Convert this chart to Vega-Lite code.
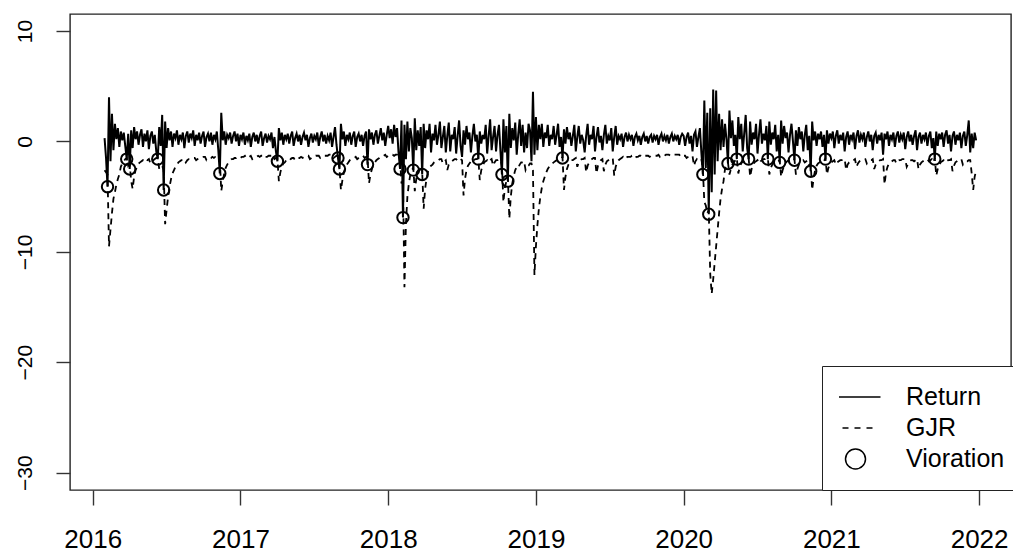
{
"$schema":"https://vega.github.io/schema/vega-lite/v6.json",
"width":941,"height":476,
"autosize":"none",
"padding":{"left":70,"top":14,"right":2,"bottom":64},
"background":"white",
"config":{"view":{"stroke":"#222","strokeWidth":1.4},"font":"Liberation Sans"},
"datasets":{
"series":[
{"t":2016.08,"r":0.3,"g":-2.6},{"t":2016.09,"r":-1.5,"g":-2.8},{"t":2016.10,"r":-4.1,"g":-3.0},{"t":2016.11,"r":4.0,"g":-9.5},{"t":2016.12,"r":-1.8,"g":-8.0},{"t":2016.13,"r":2.5,"g":-6.5},{"t":2016.14,"r":-0.8,"g":-5.2},{"t":2016.15,"r":1.6,"g":-4.6},{"t":2016.16,"r":0.2,"g":-3.9},{"t":2016.17,"r":1.2,"g":-3.4},{"t":2016.18,"r":-0.5,"g":-3.0},{"t":2016.19,"r":0.9,"g":-2.3},{"t":2016.20,"r":0.1,"g":-2.0},{"t":2016.21,"r":0.8,"g":-1.8},{"t":2016.22,"r":-0.4,"g":-1.6},{"t":2016.23,"r":-1.6,"g":-1.5},{"t":2016.24,"r":0.7,"g":-2.2},{"t":2016.25,"r":-2.5,"g":-2.0},{"t":2016.26,"r":1.0,"g":-3.6},{"t":2016.27,"r":-0.6,"g":-4.3},{"t":2016.28,"r":1.3,"g":-3.2},{"t":2016.29,"r":0.2,"g":-2.6},{"t":2016.30,"r":0.9,"g":-2.3},{"t":2016.31,"r":-0.3,"g":-2.0},{"t":2016.32,"r":0.6,"g":-1.9},{"t":2016.33,"r":1.1,"g":-1.8},{"t":2016.34,"r":-0.5,"g":-1.7},{"t":2016.35,"r":0.7,"g":-1.8},{"t":2016.36,"r":0.0,"g":-1.6},{"t":2016.37,"r":1.0,"g":-1.7},{"t":2016.38,"r":-0.7,"g":-1.6},{"t":2016.39,"r":0.5,"g":-2.0},{"t":2016.40,"r":0.9,"g":-1.8},{"t":2016.41,"r":-0.2,"g":-1.7},{"t":2016.42,"r":0.6,"g":-1.6},{"t":2016.43,"r":-0.9,"g":-1.5},{"t":2016.44,"r":-1.6,"g":-1.5},{"t":2016.45,"r":1.3,"g":-2.5},{"t":2016.46,"r":-0.4,"g":-2.4},{"t":2016.47,"r":2.4,"g":-2.2},{"t":2016.48,"r":-4.4,"g":-2.6},{"t":2016.49,"r":1.8,"g":-7.5},{"t":2016.50,"r":-0.6,"g":-6.2},{"t":2016.51,"r":1.2,"g":-5.0},{"t":2016.52,"r":0.1,"g":-4.1},{"t":2016.53,"r":0.9,"g":-3.4},{"t":2016.54,"r":-0.5,"g":-2.9},{"t":2016.55,"r":0.7,"g":-2.6},{"t":2016.56,"r":0.3,"g":-2.3},{"t":2016.57,"r":1.0,"g":-2.1},{"t":2016.58,"r":-0.3,"g":-1.9},{"t":2016.59,"r":0.6,"g":-1.8},{"t":2016.60,"r":0.2,"g":-1.7},{"t":2016.61,"r":0.8,"g":-1.7},{"t":2016.62,"r":-0.6,"g":-1.6},{"t":2016.63,"r":0.5,"g":-1.9},{"t":2016.64,"r":0.9,"g":-1.7},{"t":2016.65,"r":-0.1,"g":-1.6},{"t":2016.66,"r":0.7,"g":-1.6},{"t":2016.67,"r":0.3,"g":-1.5},{"t":2016.68,"r":1.0,"g":-1.5},{"t":2016.69,"r":-0.4,"g":-1.5},{"t":2016.70,"r":0.6,"g":-1.7},{"t":2016.71,"r":0.1,"g":-1.6},{"t":2016.72,"r":0.8,"g":-1.5},{"t":2016.73,"r":-0.2,"g":-1.5},{"t":2016.74,"r":0.5,"g":-1.5},{"t":2016.75,"r":0.9,"g":-1.4},{"t":2016.76,"r":-0.5,"g":-1.4},{"t":2016.77,"r":0.4,"g":-1.7},{"t":2016.78,"r":0.7,"g":-1.6},{"t":2016.79,"r":0.0,"g":-1.5},{"t":2016.80,"r":0.8,"g":-1.5},{"t":2016.81,"r":-0.3,"g":-1.4},{"t":2016.82,"r":0.6,"g":-1.5},{"t":2016.83,"r":0.2,"g":-1.4},{"t":2016.84,"r":0.9,"g":-1.4},{"t":2016.85,"r":-0.8,"g":-1.4},{"t":2016.86,"r":-2.9,"g":-1.6},{"t":2016.87,"r":2.6,"g":-4.5},{"t":2016.88,"r":0.1,"g":-3.6},{"t":2016.89,"r":0.9,"g":-2.9},{"t":2016.90,"r":-0.3,"g":-2.4},{"t":2016.91,"r":0.6,"g":-2.1},{"t":2016.92,"r":0.3,"g":-1.9},{"t":2016.93,"r":0.8,"g":-1.7},{"t":2016.94,"r":-0.2,"g":-1.6},{"t":2016.95,"r":0.5,"g":-1.6},{"t":2016.96,"r":0.9,"g":-1.5},{"t":2016.97,"r":0.0,"g":-1.5},{"t":2016.98,"r":0.7,"g":-1.4},{"t":2016.99,"r":-0.4,"g":-1.4},
{"t":2017.00,"r":0.6,"g":-1.5},{"t":2017.01,"r":0.2,"g":-1.4},{"t":2017.02,"r":0.8,"g":-1.4},{"t":2017.03,"r":-0.3,"g":-1.3},{"t":2017.04,"r":0.5,"g":-1.5},{"t":2017.05,"r":0.1,"g":-1.4},{"t":2017.06,"r":0.7,"g":-1.4},{"t":2017.07,"r":-0.5,"g":-1.3},{"t":2017.08,"r":0.4,"g":-1.6},{"t":2017.09,"r":0.8,"g":-1.5},{"t":2017.10,"r":0.0,"g":-1.4},{"t":2017.11,"r":0.6,"g":-1.4},{"t":2017.12,"r":-0.2,"g":-1.3},{"t":2017.13,"r":0.5,"g":-1.4},{"t":2017.14,"r":0.9,"g":-1.3},{"t":2017.15,"r":-0.4,"g":-1.3},{"t":2017.16,"r":0.3,"g":-1.5},{"t":2017.17,"r":0.7,"g":-1.4},{"t":2017.18,"r":-0.1,"g":-1.4},{"t":2017.19,"r":0.5,"g":-1.3},{"t":2017.20,"r":0.2,"g":-1.3},{"t":2017.21,"r":0.8,"g":-1.3},{"t":2017.22,"r":-0.6,"g":-1.2},{"t":2017.23,"r":0.4,"g":-1.6},{"t":2017.24,"r":-0.9,"g":-1.5},{"t":2017.25,"r":-1.8,"g":-1.6},{"t":2017.26,"r":1.2,"g":-3.6},{"t":2017.27,"r":0.1,"g":-2.8},{"t":2017.28,"r":0.8,"g":-2.3},{"t":2017.29,"r":-0.3,"g":-2.0},{"t":2017.30,"r":0.6,"g":-1.9},{"t":2017.31,"r":0.2,"g":-1.7},{"t":2017.32,"r":0.7,"g":-1.6},{"t":2017.33,"r":-0.2,"g":-1.5},{"t":2017.34,"r":0.5,"g":-1.6},{"t":2017.35,"r":0.9,"g":-1.5},{"t":2017.36,"r":-0.4,"g":-1.5},{"t":2017.37,"r":0.3,"g":-1.7},{"t":2017.38,"r":0.7,"g":-1.6},{"t":2017.39,"r":0.0,"g":-1.5},{"t":2017.40,"r":0.6,"g":-1.5},{"t":2017.41,"r":-0.3,"g":-1.4},{"t":2017.42,"r":0.4,"g":-1.5},{"t":2017.43,"r":0.8,"g":-1.4},{"t":2017.44,"r":0.1,"g":-1.4},{"t":2017.45,"r":0.6,"g":-1.3},{"t":2017.46,"r":-0.5,"g":-1.3},{"t":2017.47,"r":0.3,"g":-1.6},{"t":2017.48,"r":0.7,"g":-1.5},{"t":2017.49,"r":-0.1,"g":-1.4},{"t":2017.50,"r":0.5,"g":-1.4},{"t":2017.51,"r":0.2,"g":-1.3},{"t":2017.52,"r":0.8,"g":-1.3},{"t":2017.53,"r":-0.4,"g":-1.3},{"t":2017.54,"r":0.4,"g":-1.5},{"t":2017.55,"r":0.9,"g":-1.4},{"t":2017.56,"r":0.0,"g":-1.4},{"t":2017.57,"r":0.6,"g":-1.3},{"t":2017.58,"r":-0.2,"g":-1.3},{"t":2017.59,"r":0.5,"g":-1.3},{"t":2017.60,"r":0.1,"g":-1.2},{"t":2017.61,"r":0.8,"g":-1.2},{"t":2017.62,"r":-0.5,"g":-1.2},{"t":2017.63,"r":0.4,"g":-1.5},{"t":2017.64,"r":1.3,"g":-1.4},{"t":2017.65,"r":-0.3,"g":-1.3},{"t":2017.66,"r":-1.5,"g":-1.3},{"t":2017.67,"r":-2.5,"g":-2.4},{"t":2017.68,"r":1.6,"g":-4.4},{"t":2017.69,"r":0.2,"g":-3.5},{"t":2017.70,"r":0.9,"g":-2.8},{"t":2017.71,"r":-0.4,"g":-2.4},{"t":2017.72,"r":0.6,"g":-2.1},{"t":2017.73,"r":0.2,"g":-1.9},{"t":2017.74,"r":0.8,"g":-1.7},{"t":2017.75,"r":-0.3,"g":-1.6},{"t":2017.76,"r":0.5,"g":-1.6},{"t":2017.77,"r":0.9,"g":-1.5},{"t":2017.78,"r":-0.5,"g":-1.4},{"t":2017.79,"r":0.4,"g":-1.6},{"t":2017.80,"r":0.7,"g":-1.5},{"t":2017.81,"r":0.0,"g":-1.4},{"t":2017.82,"r":0.6,"g":-1.4},{"t":2017.83,"r":-0.4,"g":-1.3},{"t":2017.84,"r":0.5,"g":-1.5},{"t":2017.85,"r":0.9,"g":-1.4},{"t":2017.86,"r":-2.1,"g":-1.4},{"t":2017.87,"r":1.1,"g":-3.8},{"t":2017.88,"r":0.2,"g":-3.0},{"t":2017.89,"r":0.8,"g":-2.5},{"t":2017.90,"r":-0.3,"g":-2.1},{"t":2017.91,"r":0.6,"g":-1.9},{"t":2017.92,"r":1.0,"g":-1.7},{"t":2017.93,"r":-0.2,"g":-1.6},{"t":2017.94,"r":0.5,"g":-1.5},{"t":2017.95,"r":1.2,"g":-1.4},{"t":2017.96,"r":0.1,"g":-1.3},{"t":2017.97,"r":0.8,"g":-1.3},{"t":2017.98,"r":-0.4,"g":-1.2},{"t":2017.99,"r":0.6,"g":-1.4},
{"t":2018.00,"r":1.4,"g":-1.3},{"t":2018.01,"r":0.3,"g":-1.2},{"t":2018.02,"r":1.1,"g":-1.2},{"t":2018.03,"r":-0.2,"g":-1.2},{"t":2018.04,"r":1.5,"g":-1.3},{"t":2018.05,"r":0.4,"g":-1.2},{"t":2018.06,"r":1.2,"g":-1.2},{"t":2018.07,"r":-1.0,"g":-1.3},{"t":2018.08,"r":-2.5,"g":-1.6},{"t":2018.09,"r":1.9,"g":-3.8},{"t":2018.10,"r":-6.9,"g":-3.5},{"t":2018.11,"r":1.5,"g":-13.2},{"t":2018.12,"r":-1.6,"g":-7.5},{"t":2018.13,"r":1.8,"g":-5.0},{"t":2018.14,"r":-0.9,"g":-3.8},{"t":2018.15,"r":1.2,"g":-3.0},{"t":2018.16,"r":0.3,"g":-2.6},{"t":2018.17,"r":-2.6,"g":-2.4},{"t":2018.18,"r":2.1,"g":-4.5},{"t":2018.19,"r":-0.8,"g":-3.4},{"t":2018.20,"r":1.0,"g":-2.9},{"t":2018.21,"r":-0.4,"g":-2.6},{"t":2018.22,"r":1.3,"g":-2.5},{"t":2018.23,"r":-3.0,"g":-2.7},{"t":2018.24,"r":1.6,"g":-6.1},{"t":2018.25,"r":-0.6,"g":-4.3},{"t":2018.26,"r":1.0,"g":-3.3},{"t":2018.27,"r":0.2,"g":-2.7},{"t":2018.28,"r":1.6,"g":-2.4},{"t":2018.29,"r":-1.0,"g":-2.2},{"t":2018.30,"r":0.7,"g":-2.1},{"t":2018.31,"r":0.1,"g":-1.9},{"t":2018.32,"r":1.5,"g":-1.8},{"t":2018.33,"r":-0.3,"g":-1.7},{"t":2018.34,"r":0.6,"g":-1.7},{"t":2018.35,"r":1.8,"g":-1.6},{"t":2018.36,"r":-0.6,"g":-1.6},{"t":2018.37,"r":0.4,"g":-2.0},{"t":2018.38,"r":1.4,"g":-1.8},{"t":2018.39,"r":-1.0,"g":-1.7},{"t":2018.40,"r":0.5,"g":-2.6},{"t":2018.41,"r":1.7,"g":-2.1},{"t":2018.42,"r":-0.9,"g":-1.9},{"t":2018.43,"r":0.6,"g":-1.8},{"t":2018.44,"r":0.2,"g":-1.7},{"t":2018.45,"r":1.3,"g":-1.6},{"t":2018.46,"r":-1.1,"g":-1.6},{"t":2018.47,"r":0.5,"g":-1.8},{"t":2018.48,"r":1.9,"g":-1.7},{"t":2018.49,"r":-0.4,"g":-1.6},{"t":2018.50,"r":-1.4,"g":-1.7},{"t":2018.51,"r":1.0,"g":-4.9},{"t":2018.52,"r":-0.3,"g":-3.4},{"t":2018.53,"r":1.4,"g":-2.6},{"t":2018.54,"r":0.2,"g":-2.2},{"t":2018.55,"r":0.8,"g":-2.0},{"t":2018.56,"r":-1.0,"g":-1.8},{"t":2018.57,"r":0.5,"g":-1.9},{"t":2018.58,"r":1.6,"g":-1.7},{"t":2018.59,"r":0.0,"g":-1.6},{"t":2018.60,"r":0.6,"g":-1.6},{"t":2018.61,"r":-1.6,"g":-1.5},{"t":2018.62,"r":0.9,"g":-3.5},{"t":2018.63,"r":-0.2,"g":-2.6},{"t":2018.64,"r":0.6,"g":-2.2},{"t":2018.65,"r":0.2,"g":-1.9},{"t":2018.66,"r":1.5,"g":-1.8},{"t":2018.67,"r":-1.1,"g":-1.7},{"t":2018.68,"r":0.5,"g":-1.9},{"t":2018.69,"r":2.0,"g":-1.7},{"t":2018.70,"r":-0.8,"g":-1.6},{"t":2018.71,"r":0.4,"g":-2.2},{"t":2018.72,"r":1.4,"g":-1.9},{"t":2018.73,"r":-0.9,"g":-1.7},{"t":2018.74,"r":0.6,"g":-1.7},{"t":2018.75,"r":1.5,"g":-1.6},{"t":2018.76,"r":-0.9,"g":-1.6},{"t":2018.77,"r":-3.0,"g":-2.2},{"t":2018.78,"r":2.0,"g":-5.5},{"t":2018.79,"r":-1.0,"g":-4.2},{"t":2018.80,"r":1.4,"g":-3.6},{"t":2018.81,"r":-3.6,"g":-3.2},{"t":2018.82,"r":2.5,"g":-7.0},{"t":2018.83,"r":-0.6,"g":-5.0},{"t":2018.84,"r":1.2,"g":-3.8},{"t":2018.85,"r":0.1,"g":-3.1},{"t":2018.86,"r":1.7,"g":-2.6},{"t":2018.87,"r":-1.2,"g":-2.3},{"t":2018.88,"r":0.6,"g":-2.4},{"t":2018.89,"r":2.0,"g":-2.1},{"t":2018.90,"r":-0.4,"g":-1.9},{"t":2018.91,"r":1.5,"g":-1.9},{"t":2018.92,"r":-1.0,"g":-1.8},{"t":2018.93,"r":0.8,"g":-2.6},{"t":2018.94,"r":-0.6,"g":-2.3},{"t":2018.95,"r":1.6,"g":-2.2},{"t":2018.96,"r":1.0,"g":-2.0},{"t":2018.97,"r":-1.8,"g":-2.0},{"t":2018.98,"r":4.5,"g":-2.6},{"t":2018.99,"r":-1.2,"g":-12.1},
{"t":2019.00,"r":2.2,"g":-9.5},{"t":2019.01,"r":-0.8,"g":-7.6},{"t":2019.02,"r":1.5,"g":-6.1},{"t":2019.03,"r":0.2,"g":-5.0},{"t":2019.04,"r":1.6,"g":-4.2},{"t":2019.05,"r":-0.5,"g":-3.6},{"t":2019.06,"r":0.8,"g":-3.2},{"t":2019.07,"r":0.3,"g":-2.8},{"t":2019.08,"r":1.5,"g":-2.5},{"t":2019.09,"r":-0.4,"g":-2.3},{"t":2019.10,"r":0.6,"g":-2.1},{"t":2019.11,"r":0.2,"g":-2.0},{"t":2019.12,"r":1.4,"g":-1.9},{"t":2019.13,"r":-0.3,"g":-1.8},{"t":2019.14,"r":0.6,"g":-1.7},{"t":2019.15,"r":1.6,"g":-1.7},{"t":2019.16,"r":-0.5,"g":-1.6},{"t":2019.17,"r":0.4,"g":-1.6},{"t":2019.18,"r":-1.5,"g":-1.4},{"t":2019.19,"r":1.1,"g":-4.4},{"t":2019.20,"r":-0.2,"g":-3.2},{"t":2019.21,"r":1.3,"g":-2.5},{"t":2019.22,"r":0.2,"g":-2.1},{"t":2019.23,"r":0.8,"g":-1.9},{"t":2019.24,"r":-0.4,"g":-1.7},{"t":2019.25,"r":0.5,"g":-1.7},{"t":2019.26,"r":1.5,"g":-1.6},{"t":2019.27,"r":-0.9,"g":-1.5},{"t":2019.28,"r":0.4,"g":-2.3},{"t":2019.29,"r":1.4,"g":-1.9},{"t":2019.30,"r":-0.2,"g":-1.7},{"t":2019.31,"r":0.6,"g":-1.6},{"t":2019.32,"r":0.1,"g":-1.6},{"t":2019.33,"r":-1.0,"g":-1.5},{"t":2019.34,"r":0.5,"g":-2.8},{"t":2019.35,"r":1.6,"g":-2.2},{"t":2019.36,"r":-0.3,"g":-1.9},{"t":2019.37,"r":0.6,"g":-1.7},{"t":2019.38,"r":0.2,"g":-1.6},{"t":2019.39,"r":1.4,"g":-1.5},{"t":2019.40,"r":-0.9,"g":-1.5},{"t":2019.41,"r":0.4,"g":-2.9},{"t":2019.42,"r":1.3,"g":-2.2},{"t":2019.43,"r":-0.1,"g":-1.9},{"t":2019.44,"r":0.5,"g":-1.7},{"t":2019.45,"r":-0.8,"g":-1.6},{"t":2019.46,"r":0.6,"g":-2.7},{"t":2019.47,"r":1.5,"g":-2.1},{"t":2019.48,"r":-0.2,"g":-1.8},{"t":2019.49,"r":0.5,"g":-1.7},{"t":2019.50,"r":0.1,"g":-1.6},{"t":2019.51,"r":1.2,"g":-1.5},{"t":2019.52,"r":-0.9,"g":-1.5},{"t":2019.53,"r":0.4,"g":-3.1},{"t":2019.54,"r":1.4,"g":-2.3},{"t":2019.55,"r":-0.3,"g":-1.9},{"t":2019.56,"r":0.5,"g":-1.7},{"t":2019.57,"r":0.2,"g":-1.6},{"t":2019.58,"r":0.7,"g":-1.5},{"t":2019.59,"r":-0.5,"g":-1.4},{"t":2019.60,"r":0.4,"g":-1.6},{"t":2019.61,"r":0.8,"g":-1.5},{"t":2019.62,"r":0.0,"g":-1.4},{"t":2019.63,"r":0.6,"g":-1.4},{"t":2019.64,"r":0.2,"g":-1.4},{"t":2019.65,"r":0.6,"g":-1.3},{"t":2019.66,"r":-0.4,"g":-1.3},{"t":2019.67,"r":0.4,"g":-1.5},{"t":2019.68,"r":0.7,"g":-1.4},{"t":2019.69,"r":0.1,"g":-1.4},{"t":2019.70,"r":0.5,"g":-1.3},{"t":2019.71,"r":-0.3,"g":-1.3},{"t":2019.72,"r":0.4,"g":-1.4},{"t":2019.73,"r":0.7,"g":-1.4},{"t":2019.74,"r":0.0,"g":-1.3},{"t":2019.75,"r":0.5,"g":-1.3},{"t":2019.76,"r":-0.2,"g":-1.3},{"t":2019.77,"r":0.4,"g":-1.4},{"t":2019.78,"r":0.6,"g":-1.3},{"t":2019.79,"r":-0.1,"g":-1.3},{"t":2019.80,"r":0.5,"g":-1.3},{"t":2019.81,"r":0.2,"g":-1.3},{"t":2019.82,"r":0.6,"g":-1.3},{"t":2019.83,"r":-0.3,"g":-1.2},{"t":2019.84,"r":0.4,"g":-1.4},{"t":2019.85,"r":0.7,"g":-1.3},{"t":2019.86,"r":0.0,"g":-1.3},{"t":2019.87,"r":0.5,"g":-1.3},{"t":2019.88,"r":0.1,"g":-1.2},{"t":2019.89,"r":0.6,"g":-1.2},{"t":2019.90,"r":-0.2,"g":-1.2},{"t":2019.91,"r":0.4,"g":-1.3},{"t":2019.92,"r":0.7,"g":-1.3},{"t":2019.93,"r":0.0,"g":-1.2},{"t":2019.94,"r":0.5,"g":-1.2},{"t":2019.95,"r":0.2,"g":-1.2},{"t":2019.96,"r":0.6,"g":-1.2},{"t":2019.97,"r":-0.3,"g":-1.2},{"t":2019.98,"r":0.4,"g":-1.4},{"t":2019.99,"r":0.7,"g":-1.3},
{"t":2020.00,"r":0.5,"g":-1.3},{"t":2020.01,"r":-0.4,"g":-1.3},{"t":2020.02,"r":0.4,"g":-1.5},{"t":2020.03,"r":0.8,"g":-1.4},{"t":2020.04,"r":-0.2,"g":-1.3},{"t":2020.05,"r":0.5,"g":-1.3},{"t":2020.06,"r":-0.9,"g":-1.3},{"t":2020.07,"r":0.6,"g":-2.2},{"t":2020.08,"r":0.9,"g":-1.8},{"t":2020.09,"r":-0.5,"g":-1.6},{"t":2020.10,"r":0.4,"g":-1.7},{"t":2020.11,"r":1.2,"g":-1.6},{"t":2020.12,"r":-1.0,"g":-1.6},{"t":2020.13,"r":-3.0,"g":-2.5},{"t":2020.14,"r":3.7,"g":-5.5},{"t":2020.15,"r":-2.4,"g":-5.8},{"t":2020.16,"r":2.6,"g":-6.5},{"t":2020.17,"r":-6.6,"g":-6.2},{"t":2020.18,"r":3.0,"g":-12.0},{"t":2020.19,"r":-4.6,"g":-13.8},{"t":2020.20,"r":4.7,"g":-12.5},{"t":2020.21,"r":-3.0,"g":-11.0},{"t":2020.22,"r":4.6,"g":-9.5},{"t":2020.23,"r":-1.8,"g":-8.0},{"t":2020.24,"r":2.5,"g":-6.5},{"t":2020.25,"r":-0.8,"g":-5.2},{"t":2020.26,"r":2.0,"g":-4.3},{"t":2020.27,"r":-0.5,"g":-3.6},{"t":2020.28,"r":1.6,"g":-2.5},{"t":2020.29,"r":0.2,"g":-2.1},{"t":2020.30,"r":-2.0,"g":-1.9},{"t":2020.31,"r":2.8,"g":-3.0},{"t":2020.32,"r":0.3,"g":-2.5},{"t":2020.33,"r":1.9,"g":-2.1},{"t":2020.34,"r":-0.4,"g":-1.9},{"t":2020.35,"r":0.6,"g":-1.7},{"t":2020.36,"r":-1.6,"g":-1.5},{"t":2020.37,"r":2.2,"g":-2.9},{"t":2020.38,"r":0.2,"g":-2.3},{"t":2020.39,"r":1.6,"g":-2.0},{"t":2020.40,"r":-0.9,"g":-1.8},{"t":2020.41,"r":0.7,"g":-1.8},{"t":2020.42,"r":2.4,"g":-1.7},{"t":2020.43,"r":-0.6,"g":-1.6},{"t":2020.44,"r":-1.6,"g":-1.5},{"t":2020.45,"r":1.8,"g":-3.2},{"t":2020.46,"r":-0.3,"g":-2.5},{"t":2020.47,"r":0.8,"g":-2.1},{"t":2020.48,"r":0.2,"g":-1.9},{"t":2020.49,"r":1.6,"g":-1.8},{"t":2020.50,"r":-1.1,"g":-1.7},{"t":2020.51,"r":0.6,"g":-2.0},{"t":2020.52,"r":2.0,"g":-1.8},{"t":2020.53,"r":-0.2,"g":-1.7},{"t":2020.54,"r":0.7,"g":-1.6},{"t":2020.55,"r":0.1,"g":-1.6},{"t":2020.56,"r":1.4,"g":-1.5},{"t":2020.57,"r":-1.6,"g":-1.5},{"t":2020.58,"r":1.8,"g":-3.0},{"t":2020.59,"r":-0.3,"g":-2.4},{"t":2020.60,"r":0.8,"g":-2.1},{"t":2020.61,"r":0.2,"g":-1.9},{"t":2020.62,"r":1.5,"g":-1.8},{"t":2020.63,"r":-0.9,"g":-1.7},{"t":2020.64,"r":0.6,"g":-1.8},{"t":2020.65,"r":-1.9,"g":-1.7},{"t":2020.66,"r":1.9,"g":-3.2},{"t":2020.67,"r":-0.2,"g":-2.6},{"t":2020.68,"r":1.4,"g":-2.2},{"t":2020.69,"r":0.3,"g":-2.0},{"t":2020.70,"r":0.8,"g":-1.8},{"t":2020.71,"r":-1.0,"g":-1.7},{"t":2020.72,"r":0.6,"g":-1.9},{"t":2020.73,"r":1.6,"g":-1.8},{"t":2020.74,"r":0.0,"g":-1.7},{"t":2020.75,"r":-1.7,"g":-1.6},{"t":2020.76,"r":1.0,"g":-3.0},{"t":2020.77,"r":-0.4,"g":-2.5},{"t":2020.78,"r":1.3,"g":-2.1},{"t":2020.79,"r":0.2,"g":-1.9},{"t":2020.80,"r":0.9,"g":-1.8},{"t":2020.81,"r":-0.9,"g":-1.7},{"t":2020.82,"r":0.6,"g":-1.9},{"t":2020.83,"r":1.5,"g":-1.8},{"t":2020.84,"r":-0.8,"g":-1.7},{"t":2020.85,"r":0.5,"g":-2.2},{"t":2020.86,"r":-2.7,"g":-2.0},{"t":2020.87,"r":1.8,"g":-4.4},{"t":2020.88,"r":0.1,"g":-3.3},{"t":2020.89,"r":0.9,"g":-2.6},{"t":2020.90,"r":-0.4,"g":-2.2},{"t":2020.91,"r":0.7,"g":-2.0},{"t":2020.92,"r":0.2,"g":-1.9},{"t":2020.93,"r":0.9,"g":-1.8},{"t":2020.94,"r":-0.5,"g":-1.7},{"t":2020.95,"r":0.6,"g":-1.8},{"t":2020.96,"r":-1.6,"g":-1.5},{"t":2020.97,"r":1.0,"g":-3.0},{"t":2020.98,"r":-0.2,"g":-2.4},{"t":2020.99,"r":0.7,"g":-2.1},
{"t":2021.00,"r":0.3,"g":-1.9},{"t":2021.01,"r":0.9,"g":-1.8},{"t":2021.02,"r":-0.6,"g":-1.7},{"t":2021.03,"r":0.5,"g":-2.1},{"t":2021.04,"r":1.0,"g":-1.9},{"t":2021.05,"r":-0.2,"g":-1.8},{"t":2021.06,"r":0.6,"g":-1.7},{"t":2021.07,"r":0.1,"g":-1.7},{"t":2021.08,"r":0.8,"g":-1.6},{"t":2021.09,"r":-0.9,"g":-1.6},{"t":2021.10,"r":0.4,"g":-2.6},{"t":2021.11,"r":0.9,"g":-2.1},{"t":2021.12,"r":-0.3,"g":-1.9},{"t":2021.13,"r":0.6,"g":-1.8},{"t":2021.14,"r":0.2,"g":-1.7},{"t":2021.15,"r":0.8,"g":-1.7},{"t":2021.16,"r":-0.7,"g":-1.6},{"t":2021.17,"r":0.5,"g":-2.3},{"t":2021.18,"r":1.0,"g":-2.0},{"t":2021.19,"r":-0.1,"g":-1.8},{"t":2021.20,"r":0.6,"g":-1.7},{"t":2021.21,"r":0.2,"g":-1.7},{"t":2021.22,"r":0.8,"g":-1.6},{"t":2021.23,"r":-0.5,"g":-1.6},{"t":2021.24,"r":0.4,"g":-2.0},{"t":2021.25,"r":0.9,"g":-1.8},{"t":2021.26,"r":0.0,"g":-1.7},{"t":2021.27,"r":0.6,"g":-1.7},{"t":2021.28,"r":-0.8,"g":-1.6},{"t":2021.29,"r":0.5,"g":-2.5},{"t":2021.30,"r":0.8,"g":-2.1},{"t":2021.31,"r":-0.2,"g":-1.9},{"t":2021.32,"r":0.6,"g":-1.8},{"t":2021.33,"r":0.1,"g":-1.7},{"t":2021.34,"r":0.8,"g":-1.7},{"t":2021.35,"r":-1.2,"g":-1.6},{"t":2021.36,"r":0.7,"g":-3.9},{"t":2021.37,"r":0.2,"g":-2.8},{"t":2021.38,"r":0.9,"g":-2.3},{"t":2021.39,"r":-0.4,"g":-2.0},{"t":2021.40,"r":0.6,"g":-1.9},{"t":2021.41,"r":0.2,"g":-1.8},{"t":2021.42,"r":0.8,"g":-1.7},{"t":2021.43,"r":-0.5,"g":-1.7},{"t":2021.44,"r":0.5,"g":-2.0},{"t":2021.45,"r":0.9,"g":-1.8},{"t":2021.46,"r":-0.1,"g":-1.7},{"t":2021.47,"r":0.6,"g":-1.7},{"t":2021.48,"r":0.2,"g":-1.6},{"t":2021.49,"r":0.8,"g":-1.6},{"t":2021.50,"r":-0.7,"g":-1.6},{"t":2021.51,"r":0.4,"g":-2.3},{"t":2021.52,"r":0.9,"g":-2.0},{"t":2021.53,"r":0.0,"g":-1.8},{"t":2021.54,"r":0.6,"g":-1.7},{"t":2021.55,"r":-0.3,"g":-1.7},{"t":2021.56,"r":0.5,"g":-1.8},{"t":2021.57,"r":1.0,"g":-1.7},{"t":2021.58,"r":-0.8,"g":-1.6},{"t":2021.59,"r":0.4,"g":-2.5},{"t":2021.60,"r":0.8,"g":-2.1},{"t":2021.61,"r":-0.2,"g":-1.9},{"t":2021.62,"r":0.6,"g":-1.8},{"t":2021.63,"r":0.2,"g":-1.7},{"t":2021.64,"r":0.8,"g":-1.7},{"t":2021.65,"r":-0.4,"g":-1.6},{"t":2021.66,"r":0.5,"g":-1.8},{"t":2021.67,"r":0.9,"g":-1.7},{"t":2021.68,"r":-0.6,"g":-1.6},{"t":2021.69,"r":0.3,"g":-1.9},{"t":2021.70,"r":-1.6,"g":-1.5},{"t":2021.71,"r":0.9,"g":-3.1},{"t":2021.72,"r":-0.4,"g":-2.5},{"t":2021.73,"r":0.7,"g":-2.1},{"t":2021.74,"r":0.2,"g":-1.9},{"t":2021.75,"r":0.8,"g":-1.8},{"t":2021.76,"r":-0.5,"g":-1.7},{"t":2021.77,"r":0.6,"g":-1.9},{"t":2021.78,"r":1.0,"g":-1.8},{"t":2021.79,"r":-0.2,"g":-1.7},{"t":2021.80,"r":0.6,"g":-1.7},{"t":2021.81,"r":-0.9,"g":-1.6},{"t":2021.82,"r":0.5,"g":-2.7},{"t":2021.83,"r":0.9,"g":-2.2},{"t":2021.84,"r":-0.3,"g":-1.9},{"t":2021.85,"r":0.6,"g":-1.8},{"t":2021.86,"r":0.1,"g":-1.7},{"t":2021.87,"r":0.8,"g":-1.7},{"t":2021.88,"r":-0.6,"g":-1.6},{"t":2021.89,"r":0.5,"g":-2.1},{"t":2021.90,"r":0.9,"g":-1.9},{"t":2021.91,"r":-0.4,"g":-1.8},{"t":2021.92,"r":0.6,"g":-1.8},{"t":2021.93,"r":1.9,"g":-1.7},{"t":2021.94,"r":-1.0,"g":-1.7},{"t":2021.95,"r":0.7,"g":-2.9},{"t":2021.96,"r":-0.6,"g":-4.4},{"t":2021.97,"r":0.8,"g":-3.2},{"t":2021.98,"r":0.1,"g":-2.6}
],
"viol":[
{"t":2016.10,"v":-4.1,"s":"Vioration"},{"t":2016.23,"v":-1.6,"s":"Vioration"},{"t":2016.25,"v":-2.5,"s":"Vioration"},{"t":2016.44,"v":-1.6,"s":"Vioration"},{"t":2016.48,"v":-4.4,"s":"Vioration"},{"t":2016.86,"v":-2.9,"s":"Vioration"},{"t":2017.25,"v":-1.8,"s":"Vioration"},{"t":2017.66,"v":-1.5,"s":"Vioration"},{"t":2017.67,"v":-2.5,"s":"Vioration"},{"t":2017.86,"v":-2.1,"s":"Vioration"},{"t":2018.08,"v":-2.5,"s":"Vioration"},{"t":2018.10,"v":-6.9,"s":"Vioration"},{"t":2018.17,"v":-2.6,"s":"Vioration"},{"t":2018.23,"v":-3.0,"s":"Vioration"},{"t":2018.61,"v":-1.6,"s":"Vioration"},{"t":2018.77,"v":-3.0,"s":"Vioration"},{"t":2018.81,"v":-3.6,"s":"Vioration"},{"t":2019.18,"v":-1.5,"s":"Vioration"},{"t":2020.13,"v":-3.0,"s":"Vioration"},{"t":2020.17,"v":-6.6,"s":"Vioration"},{"t":2020.30,"v":-2.0,"s":"Vioration"},{"t":2020.36,"v":-1.6,"s":"Vioration"},{"t":2020.44,"v":-1.6,"s":"Vioration"},{"t":2020.57,"v":-1.6,"s":"Vioration"},{"t":2020.65,"v":-1.9,"s":"Vioration"},{"t":2020.75,"v":-1.7,"s":"Vioration"},{"t":2020.86,"v":-2.7,"s":"Vioration"},{"t":2020.96,"v":-1.6,"s":"Vioration"},{"t":2021.70,"v":-1.6,"s":"Vioration"}
]
},
"layer":[
{"data":{"name":"series"},
 "mark":{"type":"line","stroke":"#000","strokeWidth":1.8,"strokeDash":[6,5],"clip":true},
 "encoding":{
  "x":{"field":"t","type":"quantitative","scale":{"domain":[2015.846,2022.216],"nice":false,"zero":false},
   "axis":{"values":[2016,2017,2018,2019,2020,2021,2022],"format":"d","labelFontSize":26,"labelFont":"Liberation Sans","labelColor":"#000","labelBaseline":"alphabetic","labelPadding":42,"tickSize":15,"tickWidth":1.4,"tickColor":"#333","domain":false,"grid":false,"title":null,"labelFlush":false,"labelOverlap":false}},
  "y":{"field":"g","type":"quantitative","scale":{"domain":[-31.57,11.54],"nice":false,"zero":false},
   "axis":{"values":[-30,-20,-10,0,10],"labelAngle":-90,"labelAlign":"center","labelBaseline":"alphabetic","labelFontSize":21,"labelFont":"Liberation Sans","labelColor":"#000","labelPadding":25,"tickSize":14,"tickWidth":1.4,"tickColor":"#333","domain":false,"grid":false,"title":null}}
 }},
{"data":{"name":"series"},
 "mark":{"type":"line","stroke":"#000","strokeWidth":2,"clip":true},
 "encoding":{
  "x":{"field":"t","type":"quantitative","scale":{"domain":[2015.846,2022.216],"nice":false,"zero":false}},
  "y":{"field":"r","type":"quantitative","scale":{"domain":[-31.57,11.54],"nice":false,"zero":false}}
 }},
{"data":{"name":"viol"},
 "mark":{"type":"point","filled":false,"stroke":"#000","strokeWidth":2,"size":130,"opacity":1},
 "encoding":{
  "x":{"field":"t","type":"quantitative","scale":{"domain":[2015.846,2022.216],"nice":false,"zero":false}},
  "y":{"field":"v","type":"quantitative","scale":{"domain":[-31.57,11.54],"nice":false,"zero":false}},
  "shape":{"field":"s","type":"nominal",
   "scale":{"domain":["Return","GJR","Vioration"],"range":["M-2.5,0H2.5","M-2.5,0H-1.9M-1.3,0H-0.7M-0.1,0H0.5M1.1,0H1.7","circle"]},
   "legend":{"orient":"none","legendX":752,"legendY":352,"title":null,"strokeColor":"#222","fillColor":"white","padding":17,"clipHeight":28,"rowPadding":3,"labelFontSize":25,"labelFont":"Liberation Sans","labelColor":"#000","symbolSize":400,"symbolStrokeWidth":1.5,"symbolStrokeColor":"#000","symbolFillColor":"transparent","symbolOpacity":1,"symbolOffset":4,"labelOffset":38}}
 }}
]
}
